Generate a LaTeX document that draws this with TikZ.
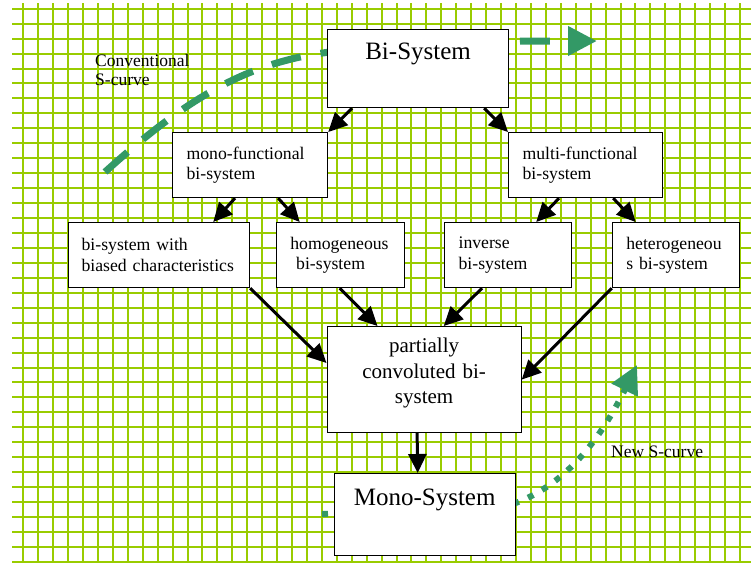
\documentclass[tikz,border=0pt]{standalone}
\usepackage{fontspec}
\setmainfont{Liberation Serif}
\usepackage{tikz,pgffor}
\usetikzlibrary{arrows.meta}
\definecolor{gridgreen}{RGB}{153,204,0}
\definecolor{curvegreen}{RGB}{51,153,102}

\begin{document}
\begin{tikzpicture}[x=1pt,y=-1pt,
  bx/.style={draw, fill=white, line width=1.2pt, anchor=north west, inner xsep=14pt, inner ysep=0pt, align=left, font=\fontsize{17.7}{20.5}\selectfont},
  bigbx/.style={draw, fill=white, line width=1.2pt, anchor=north west, inner sep=0pt, minimum width=181pt, font=\fontsize{25}{30}\selectfont},
  arr/.style={line width=3pt, -{Triangle[length=19pt,width=18pt]}},
  lbl/.style={inner sep=0pt, align=left, font=\fontsize{17.5}{19}\selectfont}]
\useasboundingbox (0,0) rectangle (751,562);
\fill[white] (0,0) rectangle (751,562);

%%%%%%%%%%%%%%%%%%%%%%%%%%%%
\foreach \i in {0,...,48}
  \draw[gridgreen, line width=2pt] (23.3+14.93*\i,3) -- (23.3+14.93*\i,562);
\foreach \j in {0,...,37}
  \draw[gridgreen, line width=2pt] (12,8.7+14.95*\j) -- (751,8.7+14.95*\j);

%%%%%%%%%%%%%%%%%%%%%%%%%%%%
\draw[curvegreen, line width=7pt, dash pattern=on 30pt off 20pt, -{Triangle[length=29pt,width=28pt]}]
(105,172) .. controls (190,95) and (250,62) .. (330,52) .. controls (400,43) and (480,41) .. (597,41);
\draw[curvegreen, line width=6pt, dash pattern=on 6pt off 10pt, -{Triangle[length=28pt,width=28pt]}]
(322,514) -- (500,508) .. controls (562,492) and (600,440) .. (637,365);

%%%%%%%%%%%%%%%%%%%%%%%%%%%%
\node[bigbx, text height=30pt, text depth=48pt] (bi) at (327,29) {Bi-System};
\node[bx, text width=127pt, minimum height=65pt] (mono) at (172,132) {mono-functional\\bi-system};
\node[bx, text width=126pt, minimum height=65pt] (multi) at (508,132) {multi-functional\\bi-system};
\node[bx, inner xsep=13pt, text width=155pt, minimum height=65pt] (biased) at (68,222) {bi-system with\\biased characteristics};
\node[bx, text width=100pt, minimum height=65pt] (homog) at (275.7,222) {homogeneous\\~bi-system};
\node[bx, text width=99pt, minimum height=65pt] (inverse) at (444,222) {inverse\\bi-system};
\node[bx, text width=99pt, minimum height=65pt] (hetero) at (611.7,222) {heterogeneou\\s bi-system};
\node[bx, align=center, text width=166pt, text height=26pt, text depth=80pt, font=\fontsize{21}{25.5}\selectfont] (part) at (326.5,326) {partially\\convoluted bi-\\system};
\node[bigbx, text height=32pt, text depth=50pt] (monosys) at (333.6,473) {Mono-System};

%%%%%%%%%%%%%%%%%%%%%%%%%%%%
\draw[arr] ([xshift=25pt]bi.south west) -- (mono.north east);
\draw[arr] ([xshift=-25pt]bi.south east) -- (multi.north west);
\draw[arr] ([xshift=63pt]mono.south west) -- ([xshift=-37pt]biased.north east);
\draw[arr] ([xshift=-50pt]mono.south east) -- ([xshift=24pt]homog.north west);
\draw[arr] ([xshift=51pt]multi.south west) -- ([xshift=-36pt]inverse.north east);
\draw[arr] ([xshift=-50pt]multi.south east) -- ([xshift=24pt]hetero.north west);
\draw[arr] (biased.south east) -- ([yshift=-37pt]part.north west);
\draw[arr] ([xshift=64pt]homog.south west) -- ([xshift=51pt]part.north west);
\draw[arr] ([xshift=38pt]inverse.south west) -- ([xshift=-78pt]part.north east);
\draw[arr] (hetero.south west) -- (part.east);
\draw[arr] ([xshift=-7pt]part.south) -- ([xshift=-7pt]monosys.north);

%%%%%%%%%%%%%%%%%%%%%%%%%%%%
\node[lbl, anchor=north west] (conv) at (95,54) {Conventional\\S-curve};
\node[lbl, anchor=base west] (news) at (611,457) {New S-curve};
\end{tikzpicture}
\end{document}
